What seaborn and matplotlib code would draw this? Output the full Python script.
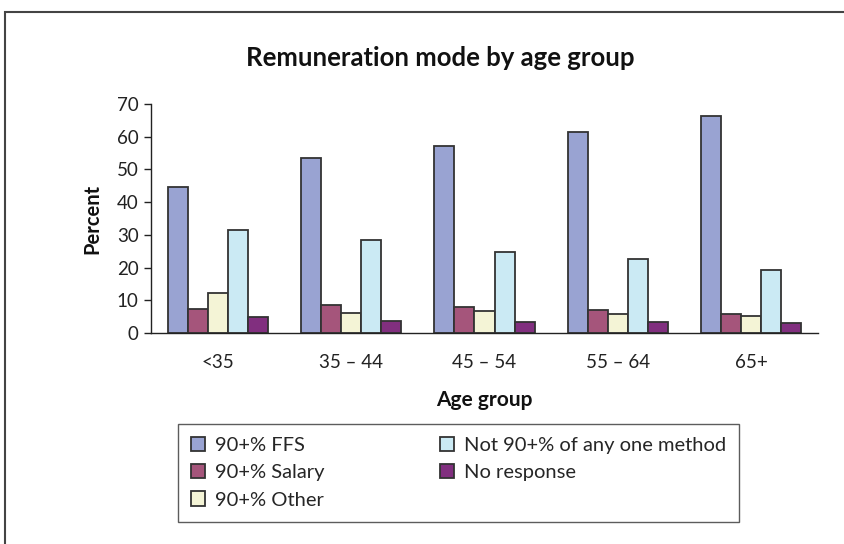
import matplotlib
matplotlib.use("Agg")
import numpy as np
import pandas as pd
import matplotlib.pyplot as plt
import seaborn as sns
from matplotlib.patches import Rectangle

AGE_GROUPS = ["<35", "35 – 44", "45 – 54", "55 – 64", "65+"]
MODES      = ["90+% FFS", "90+% Salary", "90+% Other", "Not 90+% of any one method", "No response"]
FFS        = [44.5, 53.5, 57.2, 61.4, 66.4]
SALARY     = [7.2, 8.5, 8.0, 7.1, 5.7]
OTHER      = [12.3, 6.0, 6.6, 5.8, 5.3]
NOT_90     = [31.4, 28.5, 24.8, 22.6, 19.2]
NO_RESP    = [4.8, 3.8, 3.5, 3.5, 3.2]
COLORS     = ["#99a3d2", "#a5557b", "#f4f4d6", "#cbeaf4", "#812f7f"]

W, H = 844, 544


def build_frame() -> pd.DataFrame:
    rows = []
    for mode, vals in zip(MODES, [FFS, SALARY, OTHER, NOT_90, NO_RESP]):
        for grp, v in zip(AGE_GROUPS, vals):
            rows.append({"age": grp, "mode": mode, "pct": v})
    return pd.DataFrame(rows)


def main():
    sns.set_theme(style="white")
    plt.rcParams["font.family"] = ["Lato", "DejaVu Sans"]

    df = build_frame()
    fig = plt.figure(figsize=(W / 100, H / 100), dpi=100)
    ax = fig.add_axes([151 / W, 1 - 333 / H, (818 - 151) / W, (333 - 104) / H])

    sns.barplot(data=df, x="age", y="pct", hue="mode", hue_order=MODES, order=AGE_GROUPS,
                palette=COLORS, width=0.75, gap=0, edgecolor="#333333", linewidth=1.3,
                saturation=1, ax=ax, legend=True)

    ax.set_xlim(-0.5, 4.5)
    ax.set_ylim(0, 70)
    ax.set_yticks(np.arange(0, 71, 10))
    for s in ["top", "right"]:
        ax.spines[s].set_visible(False)
    for s in ["left", "bottom"]:
        ax.spines[s].set_color("#222222")
        ax.spines[s].set_linewidth(1.0)

    ax.set_xticks(np.arange(-0.5, 5, 1), minor=True)
    ax.tick_params(axis="x", which="major", length=0, pad=15, labelsize=13.5, colors="#222222")
    ax.tick_params(axis="x", which="minor", length=5, width=1, color="#222222", direction="out")
    ax.tick_params(axis="y", which="major", length=5, width=1, color="#222222", direction="out",
                   left=True, labelsize=13.5, labelcolor="#222222", pad=4)

    ax.set_xlabel("Age group", fontsize=15, fontweight="bold", labelpad=14, color="#111111")
    ax.set_ylabel("Percent", fontsize=14.5, fontweight="bold", labelpad=10, color="#111111")

    fig.text(440 / W, 1 - 58 / H, "Remuneration mode by age group", ha="center", va="center",
             fontsize=18.5, fontweight="bold", color="#111111")

    handles, labels = ax.get_legend_handles_labels()
    ax.legend_.remove()
    leg = fig.legend(handles, labels, loc="upper left", ncol=2,
                     bbox_to_anchor=(178 / W, 1 - 424 / H), bbox_transform=fig.transFigure,
                     frameon=True, fancybox=False, borderaxespad=0, fontsize=14.5,
                     handlelength=0.7, handleheight=0.7, handletextpad=0.5,
                     columnspacing=5.7, labelspacing=0.5, borderpad=0.65)
    leg.get_frame().set_edgecolor("#333333")
    leg.get_frame().set_linewidth(1.0)

    frame = Rectangle((5 / W, -0.1), 1.2, 1 - 12 / H + 0.1, transform=fig.transFigure,
                      fill=False, edgecolor="#444444", linewidth=1.5)
    fig.patches.append(frame)

    fig.savefig("out.png", dpi=100)
    plt.close(fig)


if __name__ == "__main__":
    main()
